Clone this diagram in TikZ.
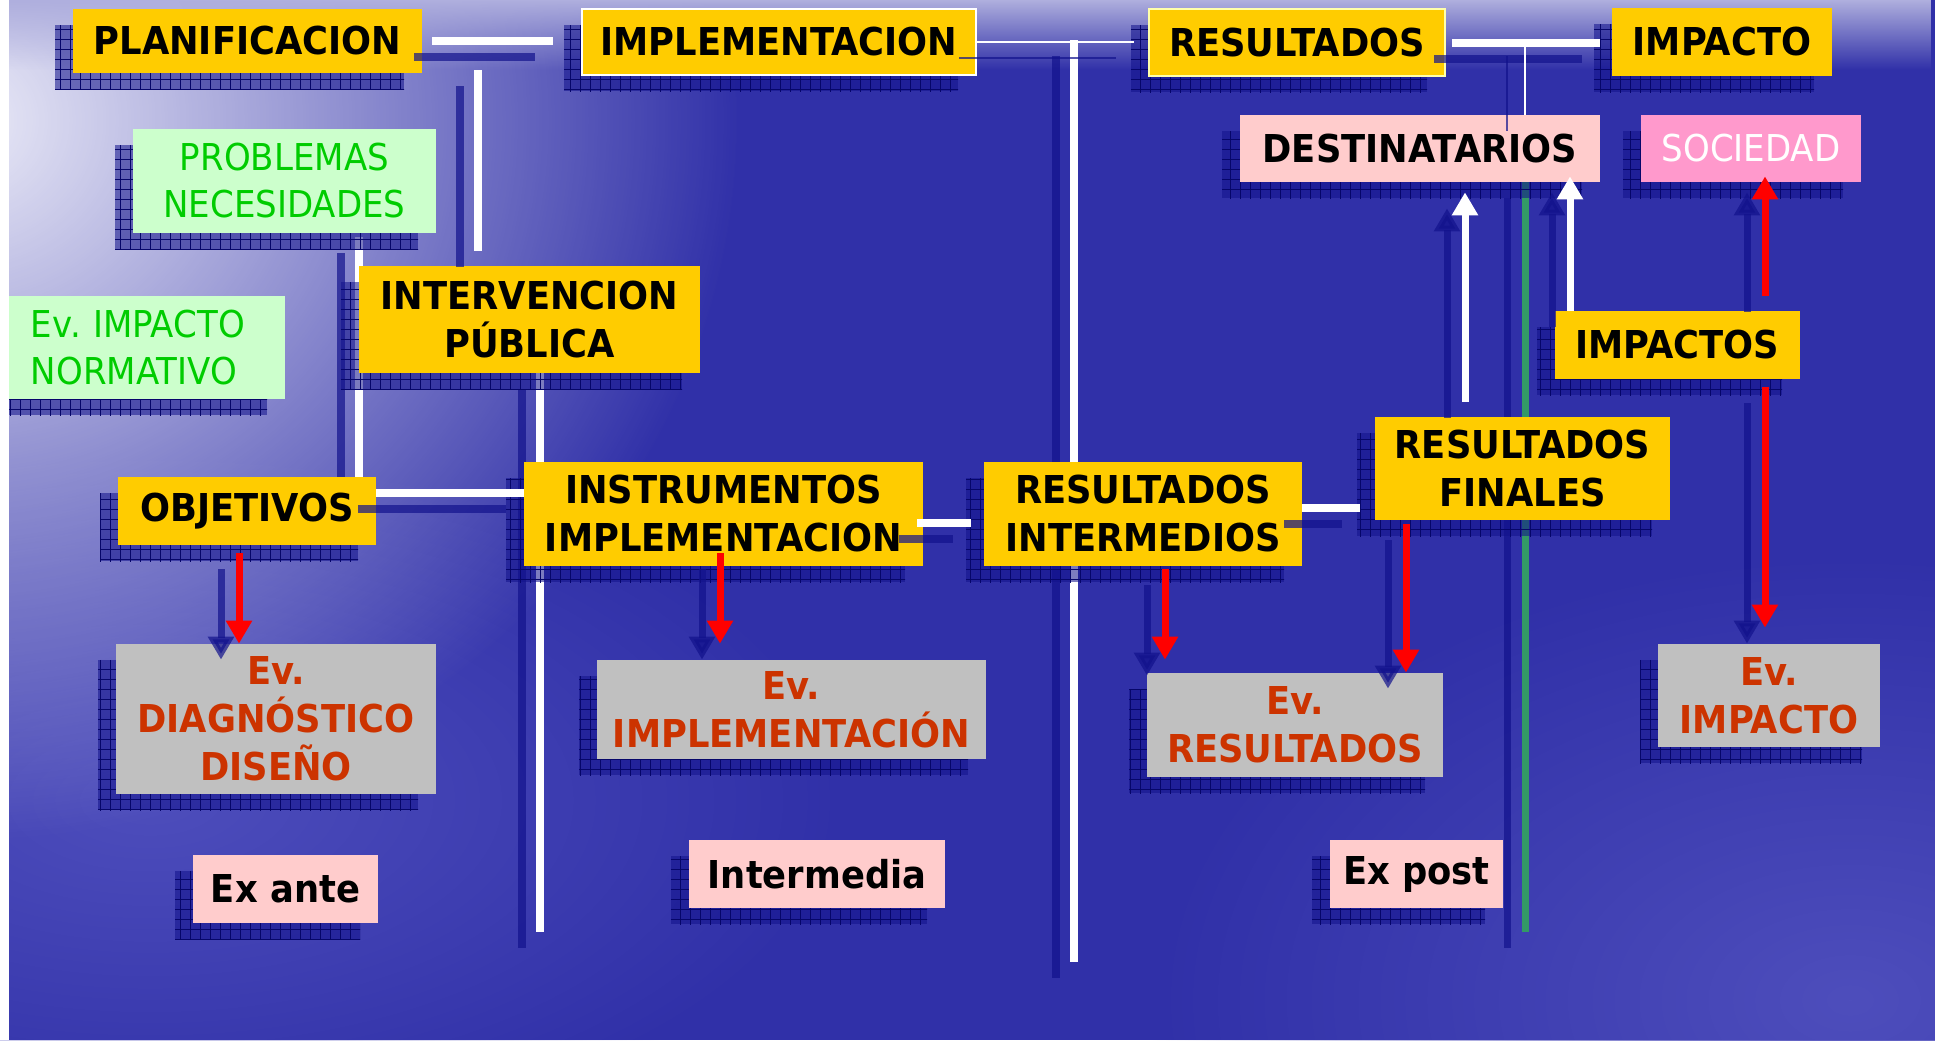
\documentclass[tikz,border=0pt]{standalone}
\usepackage{fontspec}
\setmainfont{DejaVu Sans}[FakeStretch=0.92]
\usetikzlibrary{arrows.meta,shadows,patterns.meta,fadings}

\definecolor{seablue}{RGB}{48,48,168}
\definecolor{mist}{RGB}{236,236,248}
\definecolor{haze}{RGB}{175,175,222}
\definecolor{wave}{RGB}{78,78,188}
\definecolor{shadecol}{RGB}{18,18,140}
\definecolor{gridcol}{RGB}{6,6,105}
\definecolor{gold}{RGB}{255,204,0}
\definecolor{paleyellow}{RGB}{255,255,170}
\definecolor{rosa}{RGB}{255,204,204}
\definecolor{fucsia}{RGB}{255,153,204}
\definecolor{menta}{RGB}{204,255,204}
\definecolor{verde}{RGB}{0,204,0}
\definecolor{gris}{RGB}{192,192,192}
\definecolor{teja}{RGB}{204,51,0}
\definecolor{pino}{RGB}{51,153,102}

\tikzfading[name=glow, inner color=transparent!0, outer color=transparent!100]
\tikzfading[name=topfade, top color=transparent!0, bottom color=transparent!100]

\pgfdeclarelayer{back}
\pgfdeclarelayer{behind}
\pgfsetlayers{back,behind,main}

\tikzset{
  sz/.style 2 args={minimum width=#1*0.5pt, minimum height=#2*0.5pt},
  box/.style={rectangle, inner sep=0pt, align=center,
    font=\fontsize{19.2}{24}\selectfont\bfseries,
    general shadow={fill=shadecol, fill opacity=0.55},
    general shadow={pattern={Lines[distance=5pt,line width=0.5pt]}, pattern color=gridcol, fill opacity=0.7},
    general shadow={pattern={Lines[angle=90,distance=5pt,line width=0.5pt]}, pattern color=gridcol, fill opacity=0.7}},
  ybox/.style={box, fill=gold, text=black},
  pbox/.style={box, fill=rosa, text=black},
  gbox/.style={box, fill=gris, text=teja},
  mbox/.style={box, fill=menta, text=verde, font=\fontsize{18.5}{23.5}\selectfont},
  lshadow/.style={general shadow={draw=shadecol, draw opacity=0.7, line width=#1}},
  wthick/.style={draw=white, line width=4pt, lshadow=4pt},
  wthin/.style={draw=white, line width=1.2pt, lshadow=1.2pt},
  gline/.style={draw=pino, line width=3.5pt, lshadow=3.5pt},
  tip/.style={-{Triangle[length=11.5pt,width=12.5pt]}},
  arr/.style={draw=#1, line width=3.5pt, tip,
    general shadow={draw=shadecol, opacity=0.7, line width=3.5pt, tip}},
  warrow/.style={arr=white},
  rarrow/.style={arr=red}
}

\begin{document}
\frenchspacing
\begin{tikzpicture}[x=0.5pt,y=-0.5pt,shadow xshift=-9pt,shadow yshift=-8pt]
\useasboundingbox (0,0) rectangle (1935,1040);

% sea background
\begin{pgfonlayer}{back}
\fill[seablue] (0,0) rectangle (1935,1040);
\fill[wave, path fading=glow] (1850,1000) ellipse [x radius=700, y radius=450];
\fill[wave, path fading=glow] (150,800) ellipse [x radius=700, y radius=350];
\fill[mist, path fading=glow] (-40,120) ellipse [x radius=780, y radius=720];
\fill[haze, path fading=topfade] (0,0) rectangle (1935,70);
\end{pgfonlayer}

% boxes
\node[ybox, sz={349}{64}] (plan) at (247.5,41) {PLANIFICACION};
\node[ybox, draw=white, line width=1pt, sz={394}{66}] (impl) at (779,42) {IMPLEMENTACION};
\node[ybox, draw=paleyellow, line width=1pt, sz={296}{67}] (rest) at (1297,42.5) {RESULTADOS};
\node[ybox, sz={220}{68}] (impt) at (1722,42) {IMPACTO};
\node[pbox, sz={360}{67}] (dest) at (1420,148.5) {DESTINATARIOS};
\node[box, fill=fucsia, text=white, font=\fontsize{18.5}{23.5}\selectfont, sz={220}{67}] (soc) at (1751,148.5) {SOCIEDAD};
\node[mbox, sz={303}{104}] (prob) at (284.5,181) {PROBLEMAS\\NECESIDADES};
\node[mbox, align=left, text width=116pt, sz={276}{103}] (norm) at (147,347.5) {Ev. IMPACTO\\NORMATIVO};
\node[ybox, sz={341}{107}] (interv) at (529.5,319.5) {INTERVENCION\\PÚBLICA};
\node[ybox, sz={258}{68}] (obj) at (247,511) {OBJETIVOS};
\node[ybox, sz={399}{104}] (instr) at (723.5,514) {INSTRUMENTOS\\IMPLEMENTACION};
\node[ybox, sz={318}{104}] (rint) at (1143,514) {RESULTADOS\\INTERMEDIOS};
\node[ybox, sz={295}{103}] (rfin) at (1522.5,468.5) {RESULTADOS\\FINALES};
\node[ybox, sz={245}{68}] (imps) at (1677.5,345) {IMPACTOS};
\node[gbox, sz={320}{150}] (evdiag) at (276,719) {Ev.\\DIAGNÓSTICO\\DISEÑO};
\node[gbox, sz={389}{99}] (evimpl) at (791.5,709.5) {Ev.\\IMPLEMENTACIÓN};
\node[gbox, sz={296}{104}] (evres) at (1295,725) {Ev.\\RESULTADOS};
\node[gbox, sz={222}{103}] (evimp) at (1769,695.5) {Ev.\\IMPACTO};
\node[pbox, sz={185}{68}] (exante) at (285.5,889) {Ex ante};
\node[pbox, sz={256}{68}] (interm) at (817,874) {Intermedia};
\node[pbox, sz={173}{68}] (expost) at (1416.5,874) {Ex post};

\coordinate (pj) at (478,70);
\coordinate (ir) at (1074,40);
\coordinate (rbot) at (1074,962);
\coordinate (rd) at (1525,40);
\coordinate (gend) at (1525,932);
\coordinate (ibot) at (540,932);
\foreach \c/\x in {ca/1465,cb/1570,cc/1765,cd/239,ce/720,cf/1165,cg/1406}
   \coordinate (\c) at (\x,0);

% lines running behind the boxes
\begin{pgfonlayer}{behind}
\draw[wthick] (ir) -- (rbot);
\draw[gline] (rd |- dest.south) -- (gend);
\draw[wthick, shorten <=2pt] (prob.south -| interv.west) -- (obj.north -| interv.west);
\draw[wthick] (ibot |- interv.south) -- (ibot);
\end{pgfonlayer}

% connectors
\draw[wthick, shorten <=5pt, shorten >=14pt] (plan.east) -- (plan.east -| impl.west);
\draw[wthick, shorten >=7.5pt] (pj) -- (pj |- interv.north);
\draw[wthin, shorten >=7pt] (impl.east) -- (impl.east -| rest.west);
\draw[wthick, shorten <=3pt, shorten >=6pt] (rest.east) -- (rest.east -| impt.west);
\draw[wthin] (rd) -- (rd |- dest.north);
\draw[wthick] ([yshift=9pt]obj.east) -- ([yshift=9pt]obj.east -| instr.west);
\draw[wthick, shorten <=-3pt, shorten >=6.5pt] ([yshift=-4.5pt]instr.east) -- ([yshift=-4.5pt]instr.east -| rint.west);
\draw[wthick, shorten >=7.5pt] ([yshift=3pt]rint.east) -- ([yshift=3pt]rint.east -| rfin.west);

% arrows
\draw[warrow, shorten <=7.5pt, shorten >=5pt] (ca |- rfin.north) -- (ca |- dest.south);
\draw[warrow, shorten >=-3pt] (cb |- imps.north) -- (cb |- dest.south);
\draw[rarrow, shorten <=7.5pt, shorten >=-3pt] (cc |- imps.north) -- (cc |- soc.south);
\draw[rarrow, shorten <=4pt, shorten >=8pt] (cc |- imps.south) -- (cc |- evimp.north);
\draw[rarrow, shorten <=4pt] (cd |- obj.south) -- (cd |- evdiag.north);
\draw[rarrow, shorten <=-6.5pt, shorten >=8pt] (ce |- instr.south) -- (ce |- evimpl.north);
\draw[rarrow, shorten <=1.5pt, shorten >=6.5pt] (cf |- rint.south) -- (cf |- evres.north);
\draw[rarrow, shorten <=2pt] (cg |- rfin.south) -- (cg |- evres.north);

% white margin on the left
\fill[white] (0,0) rectangle (9,1040);
\end{tikzpicture}
\end{document}
